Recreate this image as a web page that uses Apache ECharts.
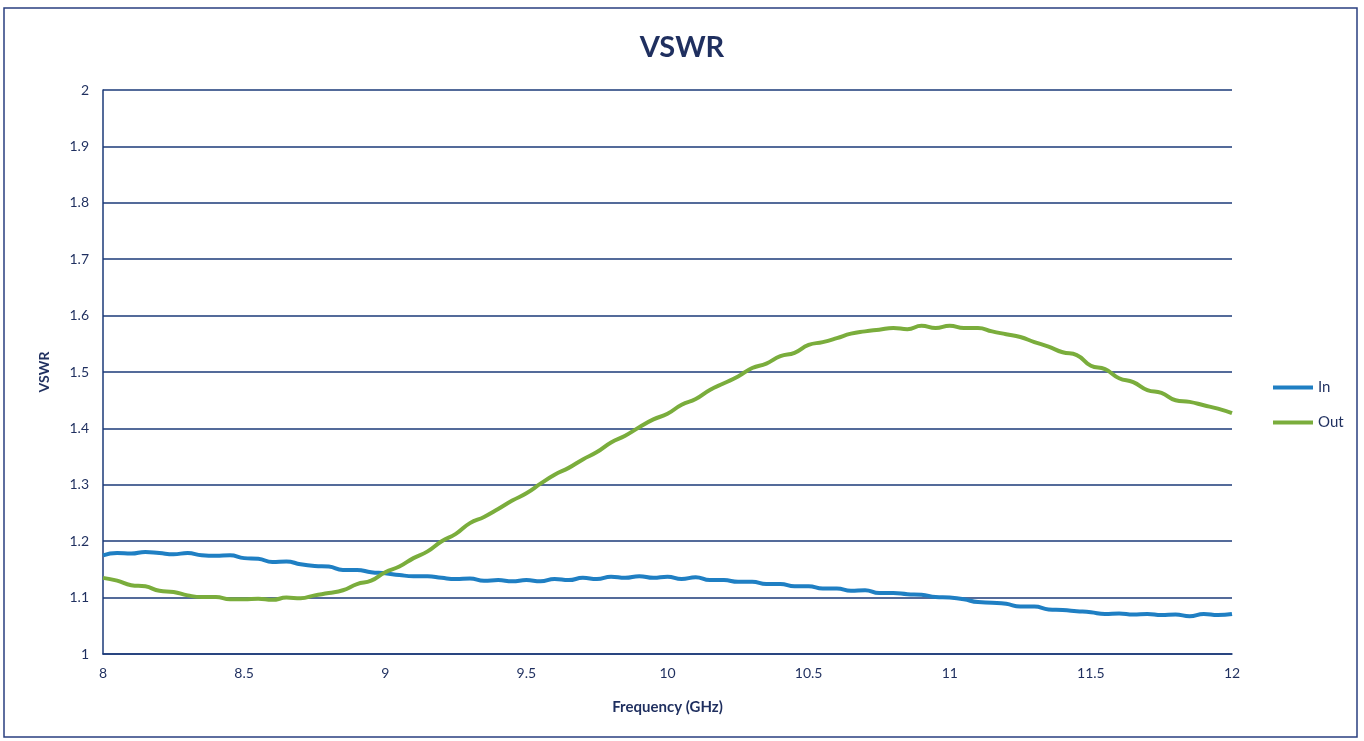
<!DOCTYPE html>
<html><head><meta charset="utf-8">
<script src="https://cdn.jsdelivr.net/npm/echarts@6/dist/echarts.min.js"></script>
<style>html,body{margin:0;padding:0;background:#fff}#c{width:1364px;height:741px}</style>
</head><body><div id="c"></div>
<script>
const freq = [8.0,8.05,8.1,8.15,8.2,8.25,8.3,8.35,8.4,8.45,8.5,8.55,8.6,8.65,8.7,8.75,8.8,8.85,8.9,8.95,
9.0,9.05,9.1,9.15,9.2,9.25,9.3,9.35,9.4,9.45,9.5,9.55,9.6,9.65,9.7,9.75,9.8,9.85,9.9,9.95,
10.0,10.05,10.1,10.15,10.2,10.25,10.3,10.35,10.4,10.45,10.5,10.55,10.6,10.65,10.7,10.75,10.8,10.85,10.9,10.95,
11.0,11.05,11.1,11.15,11.2,11.25,11.3,11.35,11.4,11.45,11.5,11.55,11.6,11.65,11.7,11.75,11.8,11.85,11.9,11.95,12.0];
const vswrIn = [1.175,1.179,1.178,1.181,1.179,1.177,1.179,1.175,1.174,1.175,1.170,1.169,1.163,1.164,1.159,1.156,1.155,1.149,1.149,1.145,
1.143,1.140,1.138,1.138,1.135,1.133,1.134,1.130,1.131,1.129,1.131,1.129,1.133,1.131,1.135,1.133,1.137,1.135,1.138,1.135,
1.137,1.133,1.136,1.131,1.131,1.128,1.128,1.124,1.124,1.120,1.120,1.116,1.116,1.112,1.113,1.108,1.108,1.106,1.105,1.101,
1.100,1.097,1.092,1.091,1.089,1.084,1.084,1.079,1.078,1.076,1.074,1.071,1.072,1.070,1.071,1.069,1.070,1.067,1.071,1.069,1.071];
const vswrOut = [1.135,1.130,1.122,1.120,1.112,1.110,1.104,1.101,1.101,1.097,1.097,1.098,1.096,1.100,1.099,1.104,1.108,1.113,1.124,1.130,
1.145,1.155,1.170,1.182,1.200,1.213,1.232,1.243,1.257,1.272,1.285,1.302,1.318,1.330,1.345,1.358,1.375,1.387,1.402,1.416,
1.426,1.442,1.452,1.468,1.480,1.492,1.507,1.515,1.528,1.534,1.548,1.553,1.560,1.568,1.572,1.575,1.578,1.576,1.582,1.578,
1.582,1.578,1.578,1.572,1.567,1.562,1.553,1.545,1.535,1.530,1.511,1.505,1.489,1.482,1.468,1.463,1.450,1.447,1.441,1.435,1.427];
const yTicks = ['1','1.1','1.2','1.3','1.4','1.5','1.6','1.7','1.8','1.9','2'];
const navy = '#1f2f5f';
const gridCol = '#1b3a78';
const chart = echarts.init(document.getElementById('c'));
chart.setOption({
  backgroundColor:'#fff',
  animation:false,
  title:{text:'VSWR',left:'center',top:28,textStyle:{fontFamily:'Lato',fontSize:29,fontWeight:'bold',color:navy}},
  legend:{orient:'vertical',left:1268,top:375,itemWidth:40,itemHeight:4,itemGap:20,icon:'rect',
    textStyle:{fontFamily:'Lato',fontSize:15,color:navy},data:['In','Out']},
  grid:{left:103,right:132,top:90,bottom:87},
  xAxis:{type:'value',min:8,max:12,interval:0.5,
    name:'Frequency (GHz)',nameLocation:'middle',nameGap:46,
    nameTextStyle:{fontFamily:'Lato',fontSize:15,fontWeight:'bold',color:navy},
    axisLine:{lineStyle:{color:gridCol,width:1.5}},axisTick:{show:false},splitLine:{show:false},
    axisLabel:{fontFamily:'Lato',fontSize:14,color:navy,margin:12}},
  yAxis:{type:'value',min:1,max:2,interval:0.1,
    name:'VSWR',nameLocation:'middle',nameGap:52,nameRotate:90,
    nameTextStyle:{fontFamily:'Lato',fontSize:14,fontWeight:'bold',color:navy},
    axisLine:{show:true,lineStyle:{color:gridCol,width:1.5}},axisTick:{show:false},
    splitLine:{lineStyle:{color:gridCol,width:1.5}},
    axisLabel:{fontFamily:'Lato',fontSize:14,color:navy,margin:14,formatter:(v,i)=>yTicks[i]}},
  graphic:[{type:'rect',shape:{x:4,y:8,width:1353,height:729},style:{fill:'none',stroke:'#2a3f80',lineWidth:1.5},silent:true}],
  series:[
    {name:'In',type:'line',smooth:true,showSymbol:false,lineStyle:{width:4,color:'#1f7fc3'},itemStyle:{color:'#1f7fc3'},
      data:freq.map((f,i)=>[f,vswrIn[i]])},
    {name:'Out',type:'line',smooth:true,showSymbol:false,lineStyle:{width:4,color:'#7aad3c'},itemStyle:{color:'#7aad3c'},
      data:freq.map((f,i)=>[f,vswrOut[i]])}
  ]
});
</script></body></html>
